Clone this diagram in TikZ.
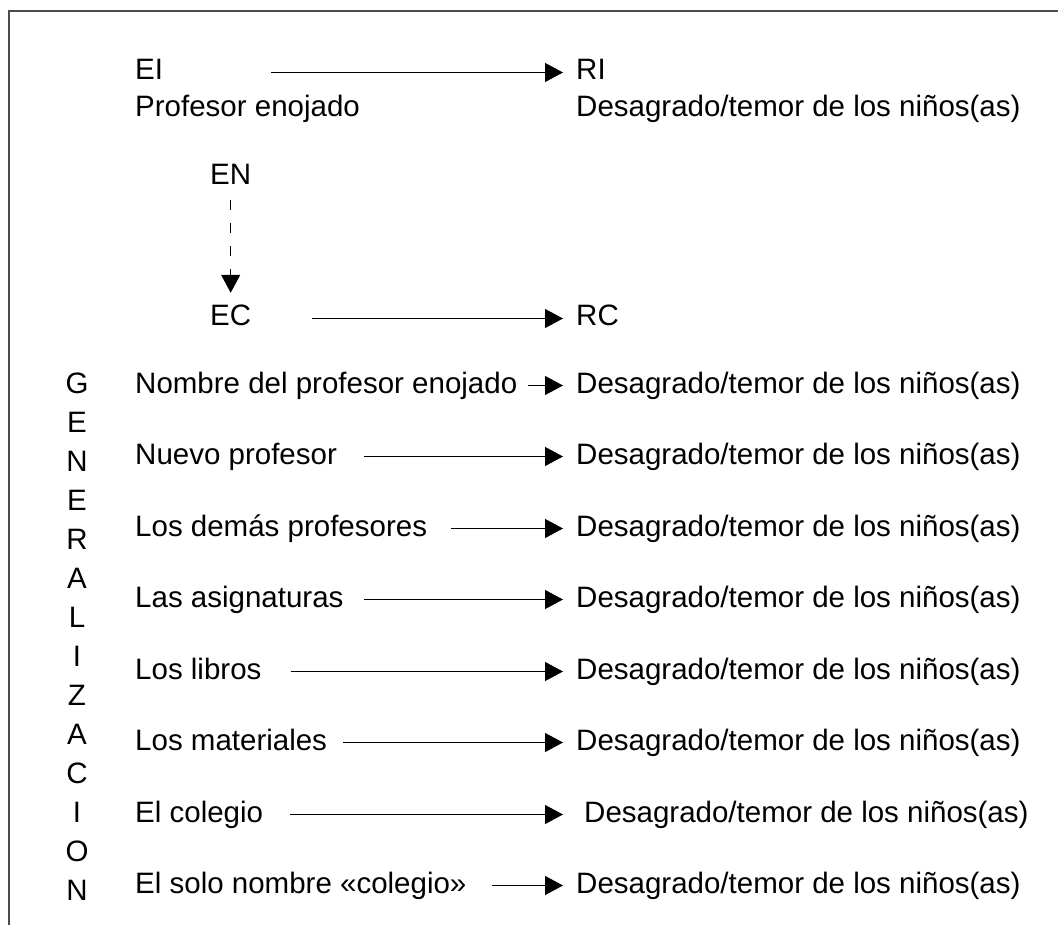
\documentclass[tikz,border=0pt]{standalone}
\usepackage{fontspec}
\setmainfont{Liberation Sans}
\usetikzlibrary{arrows.meta}
\begin{document}
\begin{tikzpicture}[x=1pt, y=-1pt, font=\fontsize{29.5}{35}\selectfont]
\tikzstyle{txt} = [inner sep=0pt, anchor=base west, text height=21pt, text depth=6pt]
\tikzstyle{arr} = [-{Triangle[length=18pt,width=19pt]}, line width=1.3pt, shorten >=13pt]
\tikzstyle{frame} = [line width=2pt, black!70]

\useasboundingbox (0,0) rectangle (1058,925);
\draw[frame] (1058,11) -- (9,11) -- (9,925);

% incondicionado
\node[txt] (ei) at (135,80) {EI};
\node[txt] (pe) at (135,117) {Profesor enojado};
\node[txt] (ri) at (576,80) {RI};
\node[txt] (dt) at (576,117) {Desagrado/temor de los niños(as)};
\draw[arr, shorten <=108pt] (ei.east) -- (ri.west);

% neutro -> condicionado
\node[txt] (en) at (210,185) {EN};
\node[txt] (ec) at (210,326) {EC};
\node[txt] (rc) at (576,326) {RC};
\draw[arr, dashed, dash pattern=on 10pt off 13pt, shorten <=9pt, shorten >=12pt] (en.south) -- (ec.north);
\draw[arr, shorten <=61pt] (ec.east) -- (rc.west);

% generalizacion
\foreach \l [count=\i] in {G,E,N,E,R,A,L,I,Z,A,C,I,O,N}
  \node[inner sep=0pt, anchor=base] (gen\i) at (77,{393+39*(\i-1)}) {\l};

\node[txt] (g1) at (135,393) {Nombre del profesor enojado};
\node[txt] (d1) at (576,393) {Desagrado/temor de los niños(as)};
\draw[arr, shorten <=11pt] (g1.east) -- (d1.west);

\node[txt] (g2) at (135,464) {Nuevo profesor};
\node[txt] (d2) at (576,464) {Desagrado/temor de los niños(as)};
\draw[arr, shorten <=27pt] (g2.east) -- (d2.west);

\node[txt] (g3) at (135,536) {Los demás profesores};
\node[txt] (d3) at (576,536) {Desagrado/temor de los niños(as)};
\draw[arr, shorten <=24pt] (g3.east) -- (d3.west);

\node[txt] (g4) at (135,607) {Las asignaturas};
\node[txt] (d4) at (576,607) {Desagrado/temor de los niños(as)};
\draw[arr, shorten <=20pt] (g4.east) -- (d4.west);

\node[txt] (g5) at (135,679) {Los libros};
\node[txt] (d5) at (576,679) {Desagrado/temor de los niños(as)};
\draw[arr, shorten <=29pt] (g5.east) -- (d5.west);

\node[txt] (g6) at (135,750) {Los materiales};
\node[txt] (d6) at (576,750) {Desagrado/temor de los niños(as)};
\draw[arr, shorten <=16pt] (g6.east) -- (d6.west);

\node[txt] (g7) at (135,822) {El colegio};
\node[txt] (d7) at (584,822) {Desagrado/temor de los niños(as)};
\draw[arr, shorten <=27pt, shorten >=21pt] (g7.east) -- (d7.west);

\node[txt] (g8) at (135,893) {El solo nombre «colegio»};
\node[txt] (d8) at (576,893) {Desagrado/temor de los niños(as)};
\draw[arr, shorten <=25pt] (g8.east) -- (d8.west);
\end{tikzpicture}
\end{document}
